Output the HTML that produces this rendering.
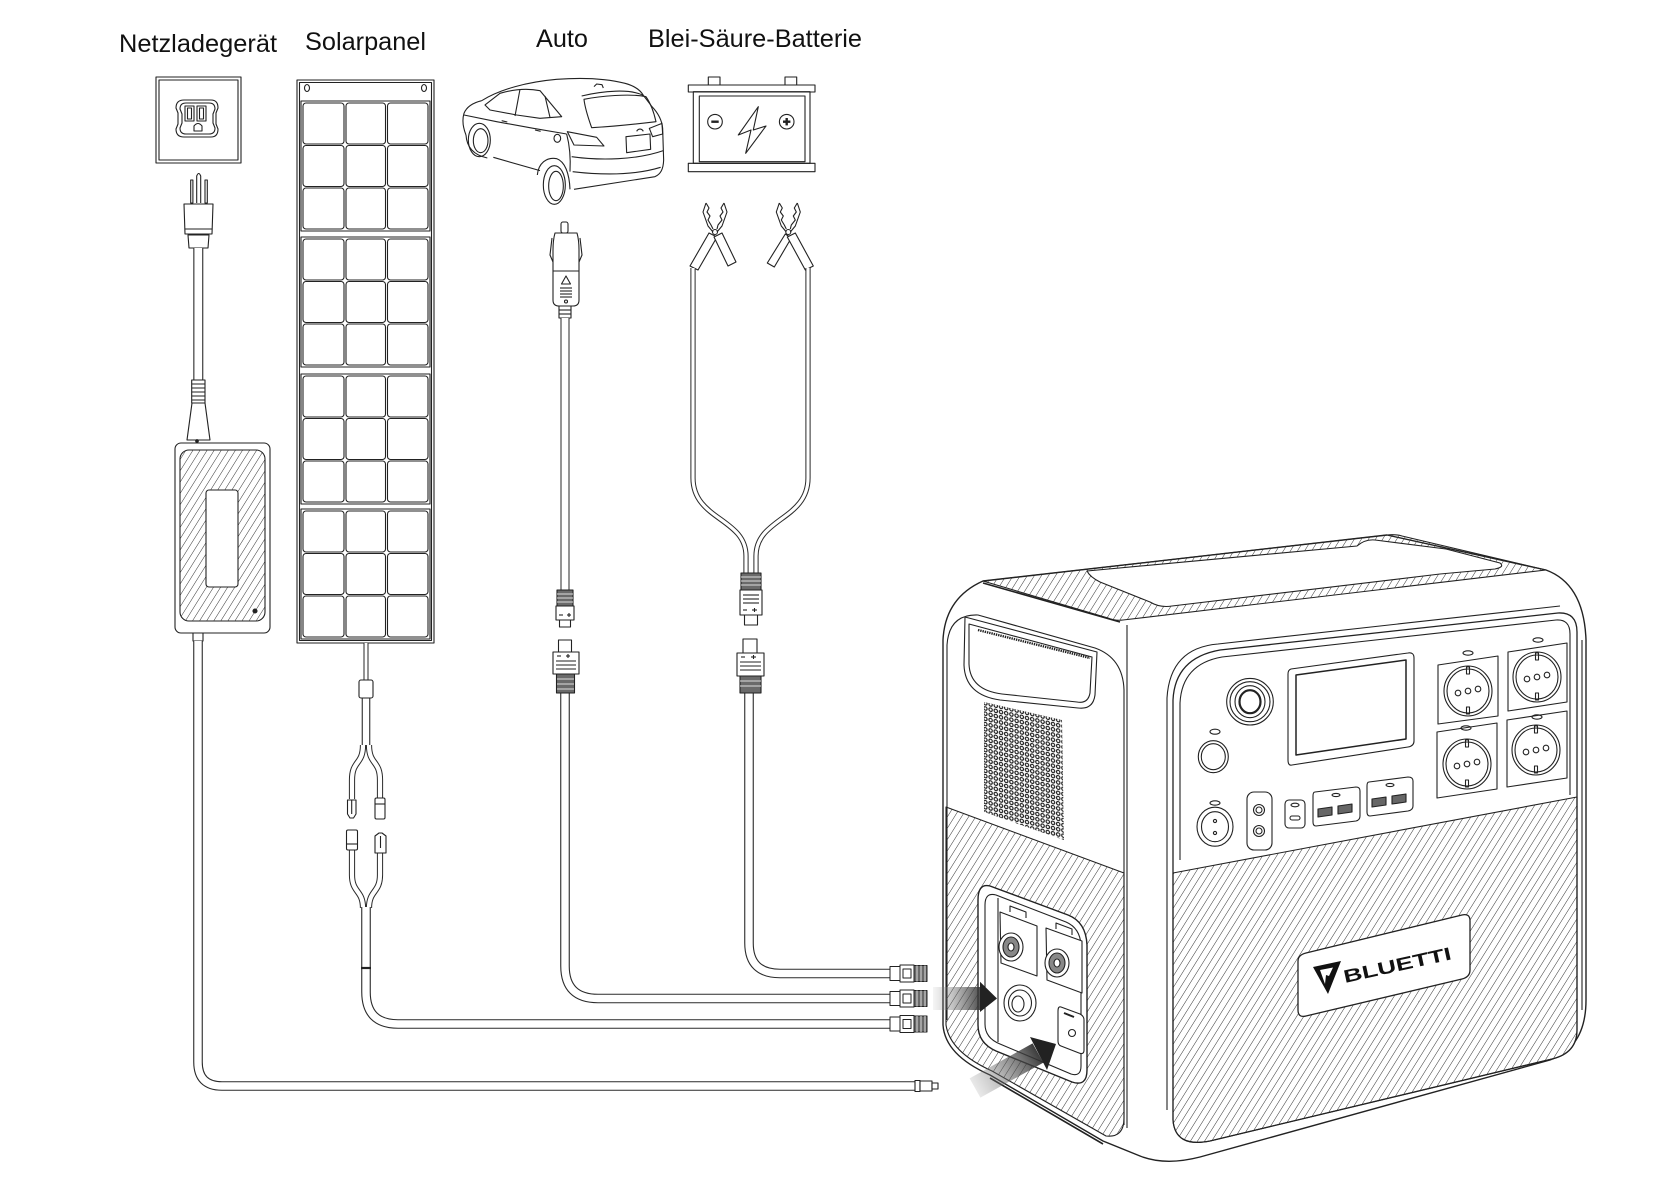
<!DOCTYPE html>
<html><head><meta charset="utf-8">
<style>
html,body{margin:0;padding:0;background:#fff;}
svg{display:block;}
</style></head>
<body>
<svg xmlns="http://www.w3.org/2000/svg" xmlns:xlink="http://www.w3.org/1999/xlink" width="1672" height="1200" viewBox="0 0 1672 1200">
<defs>
  <pattern id="h" width="6" height="6" patternUnits="userSpaceOnUse" patternTransform="rotate(32)">
    <line x1="0" y1="-1" x2="0" y2="7" stroke="#333" stroke-width="1"/>
  </pattern>
  <pattern id="dots" width="5.2" height="5.2" patternUnits="userSpaceOnUse" patternTransform="skewY(13)">
    <circle cx="2.6" cy="2.6" r="1.7" fill="none" stroke="#1a1a1a" stroke-width="1.15"/>
  </pattern>
  <linearGradient id="ar1" x1="933" y1="0" x2="985" y2="0" gradientUnits="userSpaceOnUse">
    <stop offset="0" stop-color="#999" stop-opacity="0.1"/>
    <stop offset="1" stop-color="#2a2a2a" stop-opacity="0.95"/>
  </linearGradient>
  <linearGradient id="ar2" x1="968" y1="1094" x2="1040" y2="1052" gradientUnits="userSpaceOnUse">
    <stop offset="0" stop-color="#999" stop-opacity="0.1"/>
    <stop offset="1" stop-color="#2a2a2a" stop-opacity="0.95"/>
  </linearGradient>
  <g id="sec" fill="none" stroke="#222" stroke-width="1.1">
    <rect x="0" y="0" width="129" height="130"/>
    <rect x="2" y="2" width="41" height="41" rx="3"/>
    <rect x="45" y="2" width="39.5" height="41" rx="3"/>
    <rect x="86.5" y="2" width="40.5" height="41" rx="3"/>
    <rect x="2" y="44.5" width="41" height="41" rx="3"/>
    <rect x="45" y="44.5" width="39.5" height="41" rx="3"/>
    <rect x="86.5" y="44.5" width="40.5" height="41" rx="3"/>
    <rect x="2" y="87" width="41" height="41" rx="3"/>
    <rect x="45" y="87" width="39.5" height="41" rx="3"/>
    <rect x="86.5" y="87" width="40.5" height="41" rx="3"/>
  </g>
  <g id="endcon" stroke="#222" stroke-width="1">
    <rect x="890" y="-7" width="10" height="14" fill="#fff"/>
    <rect x="900" y="-8.5" width="14" height="17" fill="#fff"/>
    <rect x="903" y="-4.5" width="8" height="9" fill="#fff"/>
    <rect x="914" y="-8" width="13" height="16" fill="#6a6a6a"/>
    <line x1="917" y1="-8" x2="917" y2="8" stroke="#ddd"/>
    <line x1="921" y1="-8" x2="921" y2="8" stroke="#ddd"/>
    <line x1="925" y1="-8" x2="925" y2="8" stroke="#ddd"/>
  </g>
</defs>

<rect width="1672" height="1200" fill="#fff"/>

<!-- Labels -->
<g font-family="'Liberation Sans', Arial, sans-serif" font-size="25" fill="#111">
  <text x="119" y="52" textLength="158" lengthAdjust="spacingAndGlyphs">Netzladegerät</text>
  <text x="305" y="50" textLength="121" lengthAdjust="spacingAndGlyphs">Solarpanel</text>
  <text x="536" y="47" textLength="52" lengthAdjust="spacingAndGlyphs">Auto</text>
  <text x="648" y="47" textLength="214" lengthAdjust="spacingAndGlyphs">Blei-Säure-Batterie</text>
</g>

<g fill="none" stroke="#222" stroke-width="1.1" stroke-linejoin="round">

<!-- ===== Wall outlet ===== -->
<rect x="156" y="77" width="85" height="86"/>
<rect x="159" y="80" width="79" height="80"/>
<path d="M184,100 L211,100 Q218,100 218,108 L216,113 L216,124 L218,129 Q218,137 211,137 L184,137 Q176,137 176,129 L178,124 L178,113 L176,108 Q176,100 184,100 Z"/>
<path d="M186,103 L209,103 Q215,103 215,109 L213,114 L213,123 L215,128 Q215,134 209,134 L186,134 Q180,134 180,128 L182,123 L182,114 L180,109 Q180,103 186,103 Z"/>
<rect x="185" y="106" width="9" height="15"/>
<rect x="187.5" y="108" width="4" height="11"/>
<rect x="197" y="106" width="9" height="15"/>
<rect x="199.5" y="108" width="4" height="11"/>
<path d="M194,131 L194,126 Q198,121 202,126 L202,131 Z"/>

<!-- ===== Plug & charger ===== -->
<path d="M196.7,203 L196.7,176 Q198.7,171 200.7,176 L200.7,203"/>
<rect x="190.7" y="180" width="2.2" height="23"/>
<rect x="205" y="180" width="2.3" height="23"/>
<path d="M184,204 L213,204 L212,234 L185,234 Z" fill="#fff"/>
<line x1="185" y1="229" x2="212" y2="229"/>
<path d="M188,235 L209,235 L208,248 L189,248 Z" fill="#fff"/>
<path d="M198.3,248 L198.3,380" stroke="#2a2a2a" stroke-width="10"/>
<path d="M198.3,248 L198.3,380" stroke="#fff" stroke-width="7.8"/>
<rect x="191.7" y="380" width="13.3" height="23" fill="#fff"/>
<g stroke-width="1">
<line x1="192" y1="384" x2="205" y2="384"/><line x1="192" y1="388" x2="205" y2="388"/>
<line x1="192" y1="392" x2="205" y2="392"/><line x1="192" y1="396" x2="205" y2="396"/>
<line x1="192" y1="400" x2="205" y2="400"/>
</g>
<path d="M192,403 L205,403 L210,440 L187,440 Z" fill="#fff"/>
<circle cx="197" cy="441" r="1.3" fill="#222"/>
<rect x="175" y="443" width="95" height="190" rx="6" fill="#fff"/>
<rect x="180" y="450" width="85" height="171" rx="9" fill="url(#h)"/>
<rect x="206" y="490" width="32" height="97" rx="3" fill="#fff"/>
<circle cx="255" cy="611" r="2" fill="#222"/>
<rect x="193" y="633" width="10" height="8" fill="#fff"/>

<!-- ===== Solar panel ===== -->
<rect x="297" y="80" width="137" height="563"/>
<rect x="299.5" y="82.5" width="132" height="558"/>
<ellipse cx="307" cy="88" rx="2.5" ry="3.5"/>
<ellipse cx="424" cy="88" rx="2.5" ry="3.5"/>
<use xlink:href="#sec" href="#sec" x="301" y="101"/>
<use xlink:href="#sec" href="#sec" x="301" y="237"/>
<use xlink:href="#sec" href="#sec" x="301" y="374"/>
<use xlink:href="#sec" href="#sec" x="301" y="509"/>

<!-- ===== Car (sketch) ===== -->
<g transform="translate(450,60) scale(0.3333)" stroke-width="3.3">
  <path d="M95,122 C150,88 230,66 320,58 C400,52 470,56 525,70 C555,78 572,92 580,106 L606,140 C625,160 636,182 638,205 L641,300 C640,328 632,342 615,350 L372,388"/>
  <path d="M402,118 C450,108 540,100 588,110 C602,130 612,158 618,185 C560,192 480,200 425,203 C415,175 405,145 402,118 Z"/>
  <path d="M395,108 C460,92 540,86 580,106"/>
  <path d="M95,122 C70,128 50,140 42,160 C36,180 40,205 48,225"/>
  <path d="M105,135 L150,100 C190,88 230,84 270,92 L300,128 L335,170 L270,175 L200,165 L120,150 Z"/>
  <path d="M210,88 L195,168"/>
  <path d="M285,108 L300,172"/>
  <path d="M42,165 L140,185 L250,205 L350,222"/>
  <path d="M130,292 L270,332"/>
  <path d="M48,225 C50,260 70,285 112,294"/>
  <ellipse cx="88" cy="240" rx="33" ry="50"/>
  <ellipse cx="92" cy="242" rx="22" ry="36"/>
  <path d="M262,345 C265,310 290,290 320,296 C345,305 358,340 360,388"/>
  <ellipse cx="313" cy="375" rx="33" ry="58"/>
  <ellipse cx="318" cy="378" rx="22" ry="44"/>
  <path d="M350,222 C360,260 362,300 360,335"/>
  <path d="M352,215 L440,232 L462,258 L372,255 Z"/>
  <path d="M598,205 L636,190 L638,222 L608,230 Z"/>
  <path d="M528,230 L600,222 L602,268 L530,278 Z"/>
  <path d="M365,290 C450,302 560,300 640,272"/>
  <path d="M368,335 C470,347 560,344 632,322"/>
  <path d="M432,80 L440,72 L456,74 L460,84"/>
  <path d="M155,182 L172,186"/>
  <path d="M255,210 L272,214"/>
  <ellipse cx="322" cy="235" rx="10" ry="12"/>
  <path d="M560,214 C565,205 575,205 580,214"/>
</g>

<!-- ===== Battery ===== -->
<rect x="708.3" y="77" width="11.7" height="8"/>
<rect x="785" y="77" width="11.7" height="8"/>
<rect x="688.3" y="85" width="126.7" height="7"/>
<rect x="693.3" y="91.7" width="116.7" height="71.6"/>
<rect x="699.3" y="96" width="105.7" height="65.7"/>
<rect x="688.3" y="163.3" width="126.7" height="8.4"/>
<circle cx="715" cy="121.7" r="7.3"/>
<line x1="711.3" y1="121.7" x2="718.7" y2="121.7" stroke-width="2.4"/>
<circle cx="786.7" cy="121.7" r="7.3"/>
<line x1="783" y1="121.7" x2="790.4" y2="121.7" stroke-width="2.4"/>
<line x1="786.7" y1="118" x2="786.7" y2="125.4" stroke-width="2.4"/>
<path d="M758.3,106.7 L738.3,135 L751,130 L745.7,153.3 L766,126 L753.3,130 Z"/>

<!-- ===== Clamps ===== -->
<g>
  <path d="M706,203 L709,208 L707,212 L710,216 L708,220 L711,225 L713,229"/>
  <path d="M724,203 L721,208 L723,212 L720,216 L722,220 L718,225 L717,229"/>
  <path d="M706,203 L703,212 L708,226 L713,232"/>
  <path d="M724,203 L727,212 L722,226 L717,232"/>
  <circle cx="715" cy="232" r="2.5"/>
  <path d="M709,233 L717,237 L698,270 L690,266 Z" fill="#fff"/>
  <path d="M714,237 L722,233 L736,262 L728,266 Z" fill="#fff"/>
</g>
<g transform="translate(73.3,0)">
  <path d="M706,203 L709,208 L707,212 L710,216 L708,220 L711,225 L713,229"/>
  <path d="M724,203 L721,208 L723,212 L720,216 L722,220 L718,225 L717,229"/>
  <path d="M706,203 L703,212 L708,226 L713,232"/>
  <path d="M724,203 L727,212 L722,226 L717,232"/>
  <circle cx="715" cy="232" r="2.5"/>
  <path d="M712,234 L718,238 L701,267 L694,263 Z" fill="#fff"/>
  <path d="M714,237 L722,233 L740,266 L732,270 Z" fill="#fff"/>
</g>

<!-- clamp cables -->
<path d="M693,268 L693,478 C693,520 746,518 746,556 L746,574" stroke="#2a2a2a" stroke-width="5.2"/>
<path d="M693,268 L693,478 C693,520 746,518 746,556 L746,574" stroke="#fff" stroke-width="3.2"/>
<path d="M808,268 L808,478 C808,520 756,518 756,556 L756,574" stroke="#2a2a2a" stroke-width="5.2"/>
<path d="M808,268 L808,478 C808,520 756,518 756,556 L756,574" stroke="#fff" stroke-width="3.2"/>

<!-- ===== Car lighter plug ===== -->
<rect x="561" y="222" width="7" height="11" rx="2" fill="#fff"/>
<path d="M555,233 L577,233 Q579,240 579,250 L579,300 Q579,306 573,306 L559,306 Q553,306 553,300 L553,250 Q553,240 555,233 Z" fill="#fff"/>
<path d="M552,238 L550,255 L553,262"/>
<path d="M580,238 L582,255 L579,262"/>
<line x1="553" y1="271" x2="579" y2="271"/>
<path d="M566,276 L561.5,284 L570.5,284 Z"/>
<line x1="560" y1="288" x2="572" y2="288"/>
<line x1="560" y1="291" x2="572" y2="291"/>
<line x1="560" y1="294" x2="572" y2="294"/>
<line x1="560" y1="297" x2="572" y2="297"/>
<circle cx="566" cy="301.5" r="1.5"/>
<rect x="559" y="306" width="12" height="12" fill="#fff"/>
<line x1="559" y1="310" x2="571" y2="310"/><line x1="559" y1="314" x2="571" y2="314"/>

<!-- ===== Cables (double lines) ===== -->
<g stroke-linecap="butt">
  <path d="M565,318 L565,590" stroke="#2a2a2a" stroke-width="9"/>
  <path d="M565,318 L565,590" stroke="#fff" stroke-width="7"/>

  <path d="M198,641 L198,1062 Q198,1086 222,1086 L916,1086" stroke="#2a2a2a" stroke-width="9.6"/>
  <path d="M198,641 L198,1062 Q198,1086 222,1086 L916,1086" stroke="#fff" stroke-width="7.4"/>

  <path d="M366,643 L366,680" stroke="#2a2a2a" stroke-width="5"/>
  <path d="M366,643 L366,680" stroke="#fff" stroke-width="3"/>
  <path d="M366,698 L366,746" stroke="#2a2a2a" stroke-width="8.6"/>
  <path d="M366,698 L366,746" stroke="#fff" stroke-width="6.4"/>
  <path d="M363,745 C363,765 352,760 352,780 L352,799" stroke="#2a2a2a" stroke-width="6.2"/>
  <path d="M363,745 C363,765 352,760 352,780 L352,799" stroke="#fff" stroke-width="4.2"/>
  <path d="M369,745 C369,765 380,760 380,780 L380,799" stroke="#2a2a2a" stroke-width="6.2"/>
  <path d="M369,745 C369,765 380,760 380,780 L380,799" stroke="#fff" stroke-width="4.2"/>
  <path d="M352,849 L352,875 C352,893 363,890 363,908" stroke="#2a2a2a" stroke-width="6.2"/>
  <path d="M352,849 L352,875 C352,893 363,890 363,908" stroke="#fff" stroke-width="4.2"/>
  <path d="M380,852 L380,875 C380,893 369,890 369,908" stroke="#2a2a2a" stroke-width="6.2"/>
  <path d="M380,852 L380,875 C380,893 369,890 369,908" stroke="#fff" stroke-width="4.2"/>

  <path d="M366,907 L366,992 Q366,1024 398,1024 L891,1024" stroke="#2a2a2a" stroke-width="9.6"/>
  <path d="M366,907 L366,992 Q366,1024 398,1024 L891,1024" stroke="#fff" stroke-width="7.4"/>

  <path d="M565,693 L565,966 Q565,998.5 598,998.5 L891,998.5" stroke="#2a2a2a" stroke-width="9.6"/>
  <path d="M565,693 L565,966 Q565,998.5 598,998.5 L891,998.5" stroke="#fff" stroke-width="7.4"/>

  <path d="M749,693 L749,943 Q749,973.5 780,973.5 L891,973.5" stroke="#2a2a2a" stroke-width="9.6"/>
  <path d="M749,693 L749,943 Q749,973.5 780,973.5 L891,973.5" stroke="#fff" stroke-width="7.4"/>
</g>
<line x1="361" y1="968" x2="371" y2="968" stroke-width="2.2"/>

<!-- solar fuse & MC4 connectors -->
<rect x="359" y="680" width="14" height="18" rx="2" fill="#fff"/>
<path d="M347.5,800 L356,800 L356,814 L353.5,818 L350,818 L347.5,814 Z" fill="#fff"/>
<line x1="351.7" y1="800" x2="351.7" y2="814"/>
<rect x="375" y="798" width="10" height="21" rx="1.5" fill="#fff"/>
<line x1="375" y1="804" x2="385" y2="804"/>
<rect x="346.5" y="830" width="11" height="20" rx="1.5" fill="#fff"/>
<line x1="346.5" y1="844" x2="357.5" y2="844"/>
<path d="M375,836 L379,833 L382,833 L386,836 L386,853 L375,853 Z" fill="#fff"/>
<line x1="380.5" y1="836" x2="380.5" y2="848"/>

<!-- auto cable connectors -->
<rect x="557" y="590" width="16" height="16" fill="#6a6a6a"/>
<g stroke="#ddd" stroke-width="1"><line x1="557" y1="594" x2="573" y2="594"/><line x1="557" y1="598" x2="573" y2="598"/><line x1="557" y1="602" x2="573" y2="602"/></g>
<rect x="556" y="606" width="18" height="14" fill="#fff"/>
<line x1="559" y1="615" x2="563" y2="615"/><line x1="567" y1="615" x2="571" y2="615"/><line x1="569" y1="613" x2="569" y2="617"/>
<rect x="559.5" y="620" width="11" height="7" fill="#fff"/>
<rect x="558.5" y="640" width="13" height="12" fill="#fff"/>
<rect x="553" y="652" width="26" height="22" fill="#fff"/>
<line x1="557" y1="656" x2="561" y2="656"/><line x1="566" y1="656" x2="570" y2="656"/><line x1="568" y1="654" x2="568" y2="658"/>
<line x1="556" y1="661" x2="576" y2="661"/><line x1="556" y1="665" x2="576" y2="665"/><line x1="556" y1="669" x2="576" y2="669"/>
<rect x="556.5" y="674" width="18" height="19" fill="#6a6a6a"/>
<g stroke="#ddd" stroke-width="1"><line x1="557" y1="679" x2="574" y2="679"/><line x1="557" y1="684" x2="574" y2="684"/><line x1="557" y1="689" x2="574" y2="689"/></g>

<!-- battery cable connectors -->
<rect x="741" y="573" width="20" height="17" fill="#6a6a6a"/>
<g stroke="#ddd" stroke-width="1"><line x1="741" y1="577" x2="761" y2="577"/><line x1="741" y1="581" x2="761" y2="581"/><line x1="741" y1="585" x2="761" y2="585"/></g>
<rect x="740" y="590" width="22" height="25" fill="#fff"/>
<line x1="743" y1="595" x2="759" y2="595"/><line x1="743" y1="599" x2="759" y2="599"/><line x1="743" y1="603" x2="759" y2="603"/>
<line x1="743" y1="610" x2="747" y2="610"/><line x1="752" y1="610" x2="757" y2="610"/><line x1="754.5" y1="608" x2="754.5" y2="612"/>
<rect x="744.5" y="615" width="13" height="10" fill="#fff"/>
<rect x="743" y="639" width="14" height="14" fill="#fff"/>
<rect x="737" y="653" width="27" height="23" fill="#fff"/>
<line x1="741" y1="657" x2="745" y2="657"/><line x1="751" y1="657" x2="756" y2="657"/><line x1="753.5" y1="655" x2="753.5" y2="659"/>
<line x1="740" y1="662" x2="761" y2="662"/><line x1="740" y1="666" x2="761" y2="666"/><line x1="740" y1="670" x2="761" y2="670"/>
<rect x="740" y="676" width="21" height="17" fill="#6a6a6a"/>
<g stroke="#ddd" stroke-width="1"><line x1="740" y1="681" x2="761" y2="681"/><line x1="740" y1="686" x2="761" y2="686"/></g>

<!-- end connectors -->
<use xlink:href="#endcon" href="#endcon" x="0" y="973.5"/>
<use xlink:href="#endcon" href="#endcon" x="0" y="998.5"/>
<use xlink:href="#endcon" href="#endcon" x="0" y="1024"/>
<rect x="915" y="1080.5" width="5" height="11" fill="#fff"/>
<rect x="920" y="1081" width="12" height="10" fill="#fff"/>
<rect x="932" y="1083" width="6" height="6" fill="#fff"/>

<!-- ===== Power station ===== -->
<path d="M943,1025 L943,640 Q945,598 983,581 L1387,535 L1546,570 Q1584,584 1586,640 L1586,1000 Q1586,1047 1550,1060 L1200,1157 Q1165,1166 1140,1156 L1103,1141 L990,1075 Q945,1055 943,1025 Z" fill="#fff" stroke-width="1.4"/>
<path d="M983,581 L1387,535 Q1395,534 1402,536 L1546,570 L1123,620 Q1115,621 1108,618 Z" fill="url(#h)"/>
<path d="M1087,571 L1357,546 Q1365,539 1375,540 L1446,549 L1500,563 Q1505,567 1495,569 L1440,574 L1172,606 Q1160,608 1150,602 L1100,582 Q1090,577 1087,571 Z" fill="#fff"/>
<line x1="983" y1="583" x2="1120" y2="622" stroke-width="1.6"/>
<path d="M947,1020 L947,645 Q949,614 978,615 L1095,648 Q1123,658 1124,690 L1124,1125"/>
<path d="M1127,625 L1127,1128"/>
<path d="M965,617 L1097,652 L1095,695 Q1093,710 1078,708 L1000,700 Q965,695 964,665 Z" fill="#fff"/>
<path d="M969,624 L1092,657 L1090,693 Q1088,704 1077,702 L1002,694 Q970,690 969,664 Z"/>
<path d="M978,630 L1090,658" stroke-width="2.4" stroke-dasharray="1.4 0.9"/>
<path d="M984,702 L1062,720 L1064,840 L984,812 Z" fill="url(#dots)" stroke="none"/>
<path d="M946,807 L1124,873 L1124,1118 Q1124,1138 1106,1136 L992,1071 Q950,1052 946,1025 Z" fill="url(#h)"/>
<path d="M990,1078 L1103,1144" stroke-width="1.6"/>
<!-- port panel -->
<path d="M990,886 L1068,915 Q1086,922 1087,945 L1087,1070 Q1087,1087 1072,1082 L996,1051 Q978,1043 978,1025 L978,900 Q978,883 990,886 Z" fill="#fff" stroke-width="1.4"/>
<path d="M996,895 L1066,922 Q1080,928 1081,945 L1081,1066 Q1081,1077 1071,1074 L1000,1044 Q985,1038 985,1024 L985,905 Q985,892 996,895 Z"/>
<line x1="998" y1="898" x2="998" y2="1042"/>
<path d="M1000,912 L1037,926 L1037,976 L1001,963 Z" fill="#fff"/>
<path d="M1010,912 L1010,906 L1026,912 L1026,918" />
<ellipse cx="1011" cy="947" rx="12" ry="14" fill="#fff"/>
<ellipse cx="1011" cy="947" rx="8" ry="10" fill="#888"/>
<ellipse cx="1011" cy="947" rx="3" ry="4" fill="#fff"/>
<path d="M1046,928 L1082,941 L1082,993 L1047,980 Z" fill="#fff"/>
<path d="M1056,929 L1056,923 L1072,929 L1072,935" />
<ellipse cx="1057" cy="963" rx="12" ry="14" fill="#fff"/>
<ellipse cx="1057" cy="963" rx="8" ry="10" fill="#888"/>
<ellipse cx="1057" cy="963" rx="3" ry="4" fill="#fff"/>
<ellipse cx="1020" cy="1003" rx="16" ry="18" fill="#fff"/>
<ellipse cx="1020" cy="1003" rx="11.5" ry="13"/>
<ellipse cx="1018" cy="1004" rx="6" ry="8"/>
<path d="M1061,1007 L1080,1014 Q1084,1016 1084,1020 L1084,1050 Q1084,1055 1079,1053 L1061,1046 Q1058,1045 1058,1041 L1058,1011 Q1058,1006 1061,1007 Z" fill="#fff"/>
<circle cx="1072" cy="1033" r="3.5"/>
<line x1="1064" y1="1013" x2="1074" y2="1017" stroke-width="2"/>
<!-- arrows -->
<rect x="933" y="987" width="47" height="23" fill="url(#ar1)" stroke="none"/>
<path d="M980,981.7 L997,998.5 L980,1012 Z" fill="#222" stroke="none"/>
<path d="M969.6,1078.4 L1032.6,1043.4 L1043.4,1062.6 L980.4,1097.6 Z" fill="url(#ar2)" stroke="none"/>
<path d="M1030,1037 L1056,1044 L1047,1070 Z" fill="#222" stroke="none"/>

<!-- front panel -->
<path d="M1173,1120 L1173,700 Q1175,658 1220,650 L1558,613 Q1577,612 1577,632 L1577,1030 Q1577,1053 1552,1059 L1210,1141 Q1175,1148 1173,1120 Z" fill="#fff" stroke-width="1.3"/>
<path d="M1180,860 L1180,703 Q1182,664 1222,657 L1556,620 Q1570,619 1570,634 L1570,795"/>
<path d="M1167,1110 L1167,698 Q1170,648 1218,644 L1560,606"/>
<path d="M1173,873 L1577,797 L1577,1030 Q1577,1053 1552,1059 L1210,1141 Q1175,1148 1173,1120 Z" fill="url(#h)"/>
<path d="M1582,640 L1582,1010"/>

<!-- BLUETTI plate -->
<path d="M1306,953 L1462,915 Q1470,913 1470,921 L1470,970 Q1470,977 1462,979 L1306,1016 Q1298,1018 1298,1010 L1298,961 Q1298,955 1306,953 Z" fill="#fff" stroke-width="1.3"/>
<path d="M1313,967 L1341,961 L1328,994 Z" fill="#111" stroke="none"/>
<path d="M1320,970 L1333,967.5 L1329,976 L1326,975 L1325,984 Z" fill="#fff" stroke="none"/>
<text x="1345" y="983" font-family="'Liberation Sans', Arial, sans-serif" font-weight="bold" font-size="18" fill="#111" stroke="none" textLength="110" lengthAdjust="spacingAndGlyphs" transform="rotate(-12.5 1345 983)">BLUETTI</text>

<!-- power button -->
<ellipse cx="1250" cy="701.7" rx="23.3" ry="23.3" fill="#fff"/>
<ellipse cx="1250" cy="701.7" rx="20" ry="20"/>
<ellipse cx="1250" cy="701.7" rx="15" ry="16"/>
<ellipse cx="1250" cy="701.7" rx="10.5" ry="11.5" stroke-width="2.2"/>
<!-- small button -->
<ellipse cx="1215" cy="731.7" rx="5" ry="2.5"/>
<ellipse cx="1213.3" cy="756.7" rx="15" ry="16" fill="#fff"/>
<ellipse cx="1213.3" cy="756.7" rx="12" ry="13"/>
<!-- display -->
<path d="M1291,669 L1408,653 Q1414,652 1414,658 L1414,741 Q1414,746 1408,747 L1292,765 Q1288,766 1288,760 L1288,674 Q1288,670 1291,669 Z" fill="#fff"/>
<path d="M1296,675 L1406,660 L1406,739 L1296,755 Z" stroke-width="1.5"/>
<!-- outlets -->
<g>
  <path d="M1438,665 L1498,656 L1498,716 L1438,724 Z" fill="#fff"/>
  <ellipse cx="1468" cy="691" rx="24" ry="25"/>
  <ellipse cx="1468" cy="691" rx="21" ry="22"/>
  <circle cx="1458" cy="693" r="2.8"/><circle cx="1468" cy="691" r="2.8"/><circle cx="1478" cy="689" r="2.8"/>
  <rect x="1466.5" y="667" width="3" height="7"/><rect x="1466.5" y="707" width="3" height="7"/>
  <ellipse cx="1468" cy="653" rx="5" ry="2.2"/>

  <path d="M1508,652 L1567,643 L1567,702 L1508,711 Z" fill="#fff"/>
  <ellipse cx="1537" cy="677" rx="24" ry="25"/>
  <ellipse cx="1537" cy="677" rx="21" ry="22"/>
  <circle cx="1527" cy="679" r="2.8"/><circle cx="1537" cy="677" r="2.8"/><circle cx="1547" cy="675" r="2.8"/>
  <rect x="1535.5" y="653" width="3" height="7"/><rect x="1535.5" y="693" width="3" height="7"/>
  <ellipse cx="1538" cy="640" rx="5" ry="2.2"/>

  <path d="M1437,732 L1497,723 L1497,789 L1437,798 Z" fill="#fff"/>
  <ellipse cx="1467" cy="764" rx="24" ry="25"/>
  <ellipse cx="1467" cy="764" rx="21" ry="22"/>
  <circle cx="1457" cy="766" r="2.8"/><circle cx="1467" cy="764" r="2.8"/><circle cx="1477" cy="762" r="2.8"/>
  <rect x="1465.5" y="740" width="3" height="7"/><rect x="1465.5" y="780" width="3" height="7"/>
  <ellipse cx="1466" cy="728" rx="5" ry="2.2"/>

  <path d="M1507,720 L1567,711 L1567,778 L1507,787 Z" fill="#fff"/>
  <ellipse cx="1536" cy="750" rx="24" ry="25"/>
  <ellipse cx="1536" cy="750" rx="21" ry="22"/>
  <circle cx="1526" cy="752" r="2.8"/><circle cx="1536" cy="750" r="2.8"/><circle cx="1546" cy="748" r="2.8"/>
  <rect x="1534.5" y="726" width="3" height="7"/><rect x="1534.5" y="766" width="3" height="7"/>
  <ellipse cx="1537" cy="717" rx="5" ry="2.2"/>
</g>
<!-- bottom port row -->
<ellipse cx="1215" cy="803" rx="5" ry="2.2"/>
<ellipse cx="1215" cy="826.7" rx="18" ry="19.5" fill="#fff"/>
<ellipse cx="1215" cy="826.7" rx="13.5" ry="15"/>
<circle cx="1215" cy="821" r="1.6"/><circle cx="1215" cy="833" r="1.6"/>
<rect x="1247" y="792" width="25" height="58" rx="7" fill="#fff"/>
<circle cx="1259" cy="810" r="5.5"/><circle cx="1259" cy="810" r="3"/>
<circle cx="1259" cy="831" r="5.5"/><circle cx="1259" cy="831" r="3"/>
<rect x="1285" y="800" width="20" height="28" rx="4" fill="#fff"/>
<rect x="1290" y="816" width="10" height="4" rx="2"/>
<ellipse cx="1295" cy="805" rx="4" ry="1.8"/>
<path d="M1315,792 L1356,787 Q1360,787 1360,791 L1360,816 Q1360,820 1356,821 L1316,826 Q1313,826 1313,822 L1313,796 Q1313,792 1315,792 Z" fill="#fff"/>
<path d="M1318,809 L1332,807 L1332,815 L1318,817 Z" fill="#666"/>
<path d="M1338,806 L1352,804 L1352,812 L1338,814 Z" fill="#666"/>
<ellipse cx="1336" cy="795" rx="4" ry="1.6"/>
<path d="M1369,782 L1408,777 Q1413,777 1413,781 L1413,806 Q1413,810 1408,811 L1370,816 Q1367,816 1367,812 L1367,786 Q1367,782 1369,782 Z" fill="#fff"/>
<path d="M1372,799 L1386,797 L1386,805 L1372,807 Z" fill="#666"/>
<path d="M1392,796 L1406,794 L1406,802 L1392,804 Z" fill="#666"/>
<ellipse cx="1390" cy="785" rx="4" ry="1.6"/>

</g>
</svg>
</body></html>
